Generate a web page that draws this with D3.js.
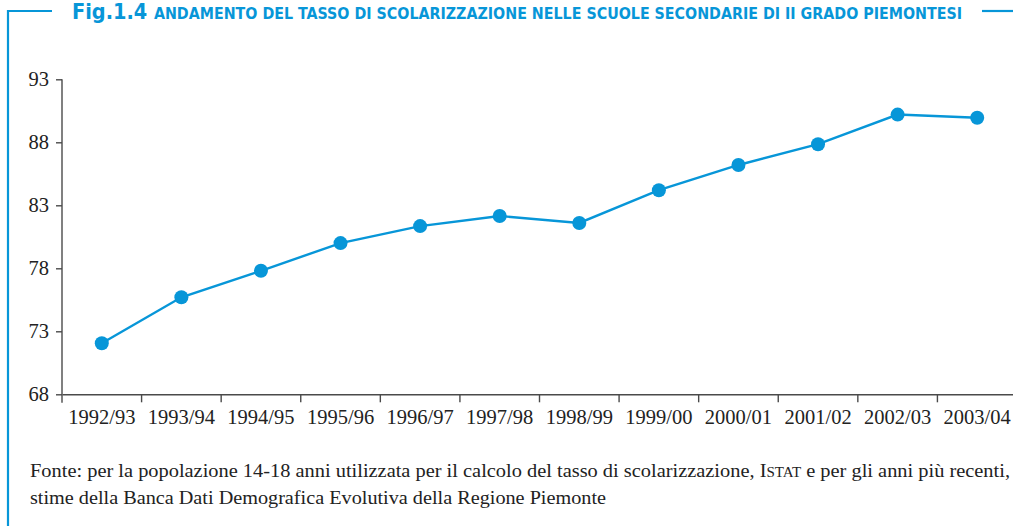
<!DOCTYPE html>
<html>
<head>
<meta charset="utf-8">
<script src="https://cdn.jsdelivr.net/npm/d3@7"></script>
<style>
  body { margin: 0; background: #fff; }
  svg { display: block; }
</style>
</head>
<body>
<div id="chart"></div>
<script>
// data
const years = [`1992/93`, `1993/94`, `1994/95`, `1995/96`, `1996/97`, `1997/98`,
  `1998/99`, `1999/00`, `2000/01`, `2001/02`, `2002/03`, `2003/04`];
const rates = [72.05, 75.7, 77.8, 80.0, 81.35, 82.15, 81.6, 84.2, 86.2, 87.85, 90.2, 89.95];
const yTicks = [68, 73, 78, 83, 88, 93];

const blue = `#0796d8`;
const W = 1013, H = 526;
const margin = {left: 62, right: -4, top: 79.3, bottom: 131.7};
const width = W - margin.left - margin.right;
const height = H - margin.top - margin.bottom;

let svg = d3.select(`#chart`).append(`svg`)
  .attr(`width`, W)
  .attr(`height`, H);

// frame lines
svg.append(`path`)
  .attr(`d`, `M8,526 V11 H52`)
  .attr(`fill`, `none`)
  .attr(`stroke`, blue)
  .attr(`stroke-width`, 2.2);
svg.append(`line`)
  .attr(`x1`, 982).attr(`x2`, 1013).attr(`y1`, 11).attr(`y2`, 11)
  .attr(`stroke`, blue)
  .attr(`stroke-width`, 2.2);

// title
let title = svg.append(`text`)
  .attr(`x`, 72).attr(`y`, 19)
  .attr(`fill`, blue)
  .attr(`font-family`, `'Liberation Sans Narrow', 'DejaVu Sans Condensed', sans-serif`)
  .attr(`font-weight`, `bold`)
  .attr(`textLength`, 890)
  .attr(`lengthAdjust`, `spacingAndGlyphs`);
title.append(`tspan`).attr(`font-size`, 21).text(`Fig.1.4 `);
title.append(`tspan`).attr(`font-size`, 15.5).text(`ANDAMENTO DEL TASSO DI SCOLARIZZAZIONE NELLE SCUOLE SECONDARIE DI II GRADO PIEMONTESI`);

let graph = svg.append(`g`)
  .attr(`transform`, `translate(` + margin.left + `,` + margin.top + `)`);

// scales
let x = d3.scaleBand().domain(years).range([0, width]);
let y = d3.scaleLinear().domain([68, 93]).range([height, 0]);

const serif = `'Liberation Serif', 'DejaVu Serif', serif`;

// Y axis
let yAxis = graph.append(`g`)
  .attr(`class`, `y axis`)
  .call(d3.axisLeft(y).tickValues(yTicks).tickSize(6).tickPadding(7).tickSizeOuter(0));
yAxis.select(`.domain`).attr(`d`, `M0,0 V${height + 8.5}`);

// X axis with ticks at band edges
let xAxis = graph.append(`g`)
  .attr(`class`, `x axis`)
  .attr(`transform`, `translate(0,` + height + `)`)
  .call(d3.axisBottom(x).tickSize(0).tickPadding(17).tickSizeOuter(0));
xAxis.selectAll(`.edge`)
  .data(years.slice(1))
  .enter()
  .append(`line`)
  .attr(`class`, `edge`)
  .attr(`x1`, d => x(d)).attr(`x2`, d => x(d))
  .attr(`y1`, 0).attr(`y2`, 8)
  .attr(`stroke`, `#4a4a4a`)
  .attr(`stroke-width`, 1.4);

svg.selectAll(`.axis .domain, .axis .tick line`)
  .attr(`stroke`, `#4a4a4a`)
  .attr(`stroke-width`, 1.4);
svg.selectAll(`.axis text`)
  .attr(`font-family`, serif)
  .attr(`font-size`, 20.5)
  .attr(`fill`, `#222`);
xAxis.selectAll(`text`).attr(`dy`, `0.6em`);

// line + dots
let valueline = d3.line()
  .x((d, i) => x(years[i]) + x.bandwidth() / 2)
  .y(d => y(d));

graph.append(`path`)
  .datum(rates)
  .attr(`fill`, `none`)
  .attr(`stroke`, blue)
  .attr(`stroke-width`, 2.4)
  .attr(`d`, valueline);

graph.append(`g`)
  .attr(`class`, `dot graph`)
  .selectAll(`circle`)
  .data(rates)
  .enter()
  .append(`circle`)
  .attr(`r`, 7)
  .attr(`fill`, blue)
  .attr(`cx`, (d, i) => x(years[i]) + x.bandwidth() / 2)
  .attr(`cy`, d => y(d));

// source note
let note = svg.append(`g`)
  .attr(`font-family`, serif)
  .attr(`font-size`, 19)
  .attr(`fill`, `#222`);
let l1 = note.append(`text`).attr(`x`, 30).attr(`y`, 477)
  .attr(`textLength`, 980).attr(`lengthAdjust`, `spacingAndGlyphs`);
l1.append(`tspan`).text(`Fonte: per la popolazione 14-18 anni utilizzata per il calcolo del tasso di scolarizzazione, I`);
l1.append(`tspan`).attr(`font-size`, 14).text(`STAT`);
l1.append(`tspan`).text(` e per gli anni più recenti,`);
note.append(`text`).attr(`x`, 30).attr(`y`, 504)
  .attr(`textLength`, 576).attr(`lengthAdjust`, `spacingAndGlyphs`)
  .text(`stime della Banca Dati Demografica Evolutiva della Regione Piemonte`);
</script>
</body>
</html>
